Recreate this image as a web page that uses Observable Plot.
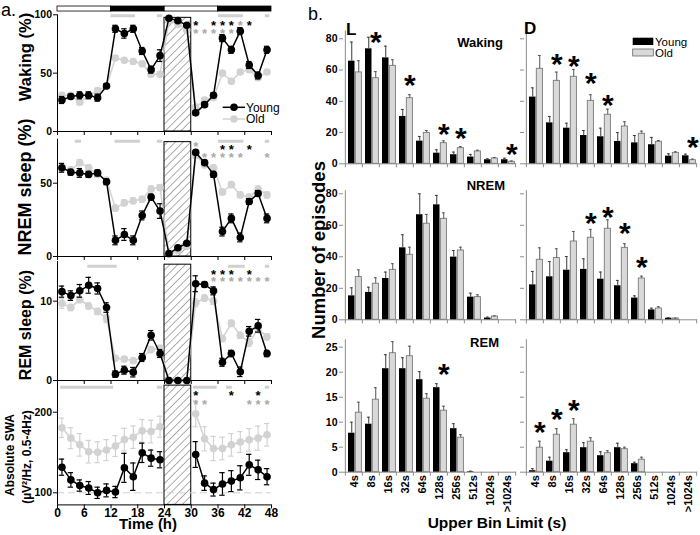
<!DOCTYPE html>
<html><head><meta charset="utf-8">
<script src="https://cdn.jsdelivr.net/npm/d3@7"></script>
<script src="https://cdn.jsdelivr.net/npm/@observablehq/plot@0.6"></script>
<style>
html,body{margin:0;padding:0;background:#fff;}
#chart{position:relative;width:700px;height:535px;overflow:hidden;background:#fff;}
#chart svg{position:absolute;background:transparent !important;max-width:none !important;overflow:visible;}
.pb g[aria-label="y-axis tick"], .pb g[aria-label="x-axis tick"], .pb g[aria-label="y-axis"] line {stroke:#8c8c8c;}
.swa g[aria-label^="x-axis"] text {font-size:12px;}
.pb g[aria-label^="x-axis"] text {font-size:11px;}
</style></head>
<body><div id="chart"></div>
<svg width="0" height="0" style="position:absolute"><defs>
<pattern id="hatch" patternUnits="userSpaceOnUse" width="5.5" height="5.5" patternTransform="rotate(45)">
<rect width="5.5" height="5.5" fill="#fff"/><line x1="0" y1="0" x2="0" y2="5.5" stroke="#333" stroke-width="0.8"/>
</pattern></defs></svg>
<script>
// ---------------- Panel a data ----------------
const hours = [1,3,5,7,9,11,13,15,17,19,21,23,25,27,29,31,33,35,37,39,41,43,45,47];
const hourTicks = [0,6,12,18,24,30,36,42,48];
const sdWindow = [[24,30]];
const lightDark = [{start:0,end:12,phase:"light"},{start:12,end:24,phase:"dark"},{start:24,end:36,phase:"light"},{start:36,end:48,phase:"dark"}];

const wakeYoung    = [27,30,31,31,29,39,88,84,88,69,53,65,97,95,91,16,23,31,80,70,86,57,48,70];
const wakeYoungErr = [3,2,3,3,3,2,3,4,3,3,3,5,1,1,1,2,2,2,3,3,3,3,3,3];
const wakeOld      = [31,31,25,31,35,39,63,61,60,58,49,49,95,92,87,21,27,29,50,43,51,53,46,51];
const wakeOldErr   = [2,2,2,2,2,2,2,2,2,2,2,2,1,1,1,2,2,2,2,2,2,2,2,2];

const nremYoung    = [60.5,57.5,57,56,57,51,11,15,11,28,40.5,31,2,6,9,71,64,56,17,26,13,37.5,43,26];
const nremYoungErr = [3,2,3,2,2,2,3,4,3,3,2,5,1,1,1,1,1,2,3,3,3,2,2,3];
const nremOld      = [60,59,64,60.5,56,52,33,36.6,38,39,46,47,2,4,7,69,62.5,60.5,44,49,42,40.5,46,42];
const nremOldErr   = [2,2,2,2,2,2,2,2,2,2,2,2,1,1,1,2,2,2,2,2,2,2,2,2];

const remYoung     = [11.2,10.7,11.3,12,11.6,9.2,0.8,1.3,1.05,2.9,5.7,3.4,0,0,0,12.2,12.1,11.3,2.3,3.4,1.1,6.2,6.9,3.4];
const remYoungErr  = [0.7,0.6,0.8,1,0.7,0.6,0.4,0.5,0.6,0.5,0.6,0.5,0,0,0,1,0.3,0.5,0.5,0.4,0.6,0.6,0.8,0.4];
const remOld       = [9.7,9.2,10.2,9.4,8.7,7.8,2.8,2.7,2.5,2.9,3.9,4.1,0,0,0,9.8,10.4,10,5.3,7.2,5.7,4.8,6.5,5.5];
const remOldErr    = [0.6,0.4,0.4,0.4,0.4,0.5,0.3,0.3,0.3,0.5,0.4,0.3,0,0,0,0.5,0.4,0.4,0.4,0.4,0.4,0.5,0.5,0.4];

const swaYoung     = [131.8,116,109,106,100,103,101,131,120,149.6,143,141,null,null,null,147.5,112,104,111,114.5,118.6,134.7,128.5,120];
const swaYoungErr  = [10,9,7,8,7,8,7,18,17,12,10,10,null,null,null,16,9,8,14,13,15,13,12,10];
const swaOld       = [180.6,167.8,159.5,151,150.4,153,158,166,169,177,176,182,null,null,null,198,167,155,155,159.5,163,165.7,167.8,172];
const swaOldErr    = [12,13,14,14,13,13,13,14,14,14,14,13,null,null,null,16,15,15,14,14,13,14,15,14];

// significance bars (hours) and asterisks (hours)
const wakeSigBars = [[12,17.5],[22.4,23.6],[36.1,41.7],[46.6,47.6]];
const nremSigBars = [[4,5.4],[12.9,18.6],[22.4,23.6],[36.1,41.8],[46.6,47.6]];
const remSigBars  = [[6.8,13.4],[38.4,42.1],[46.6,47.6]];
const swaSigBars  = [[0.7,12.6],[22.4,23.6],[30.5,35.8],[37.9,39.2],[46.6,47.6]];

const wakeStarBlack = [31,35,37,39,43], wakeStarGrayTop = [41], wakeStarGray = [31,33,35,37,39];
const nremStarGrayTop = [31], nremStarBlack = [37,39,43], nremStarGray = [33,35,37,39,41,47];
const remStarBlack = [35,37,39,43], remStarGray = [35,37,39,41,43,45,47];
const swaStarBlack = [31,39,45], swaStarGray = [31,33,43,45,47];

// ---------------- Panel b data ----------------
const bins = ["4s","8s","16s","32s","64s","128s","256s","512s","1024s",">1024s"];

const wakeLYoung = [65.7,73.6,67.8,30.3,14.5,6.8,5.8,4.3,2.6,2.6];
const wakeLYoungErr = [12.2,7.4,7.5,4.5,3,2.2,1.7,1.7,0.6,1.0];
const wakeLOld = [58.5,54.8,62.7,42,19.8,13.2,10,7.9,3.4,1.3];
const wakeLOldErr = [7.5,4.2,3.9,2.2,1.5,1.5,1,0.8,0.6,0.5];

const wakeDYoung = [42.7,26.2,22.8,18.1,17.3,14.3,13.4,12.2,4.9,5.1];
const wakeDYoungErr = [5.9,4.1,3.2,3.2,5.5,5.7,4.7,4.7,1.5,1.1];
const wakeDOld = [60.8,53.1,55.7,40.3,31.4,23.9,19.2,14.1,7,2.3];
const wakeDOldErr = [8.5,5.6,4.7,3.9,3.6,3,1.7,0.8,0.7,0.7];

const nremLYoung = [15.2,17.4,26.2,45.7,66.7,73,39.8,14.4,1.1,0];
const nremLYoungErr = [5.1,3.3,4.1,8.3,13.3,6,4.2,2.5,0.6,0];
const nremLOld = [27.1,22.9,31.7,41.3,61,64.1,44,14.4,2.1,0];
const nremLOldErr = [4.6,3.8,3.9,4.8,5.9,3.8,2.1,1.5,0.4,0];

const nremDYoung = [22.2,27.3,31.5,32,25.8,21.6,13.8,6.3,1,0];
const nremDYoungErr = [8.5,9.7,8.7,6.7,4.5,3.4,1.4,1.1,0.3,0];
const nremDOld = [38.1,39.2,49.7,52.1,57.8,45.7,26.2,7.2,0.8,0];
const nremDOldErr = [7.6,5.9,6.4,5.3,5.7,2.6,1.5,1.1,0.3,0];

const remLYoung = [7.8,9.6,20.7,20.7,18.5,16.9,8.7,0.1,0,0];
const remLYoungErr = [2.2,1.4,2.8,2.2,1.6,0.8,1,0.1,0,0];
const remLOld = [11.9,14.5,23.8,23.2,14.7,12.3,6.9,0,0,0];
const remLOldErr = [2.1,2.4,2.3,2,1,0.9,0.6,0,0,0];

const remDYoung = [0.3,2.2,3.9,4.9,3.3,4.9,1.7,0,0,0];
const remDYoungErr = [0.4,0.8,0.6,1,0.8,0.9,0.3,0,0,0];
const remDOld = [4.9,7.5,9.5,6.1,3.8,4.6,2.5,0,0,0];
const remDOldErr = [1.3,1.2,1.2,0.8,0.5,0.4,0.5,0,0,0];

// asterisk levels (episode counts)
const wakeLSig = [{bin:"8s",y:82},{bin:"32s",y:54.6},{bin:"128s",y:23.2},{bin:"256s",y:20.7},{bin:">1024s",y:10.6}];
const wakeDSig = [{bin:"8s",y:68.2},{bin:"16s",y:66.6},{bin:"32s",y:55.9},{bin:"64s",y:41.6},{bin:">1024s",y:14.9}];
const nremLSig = [];
const nremDSig = [{bin:"32s",y:65.6},{bin:"64s",y:69.4},{bin:"128s",y:59.2},{bin:"256s",y:37.7}];
const remLSig = [{bin:"128s",y:20.9}];
const remDSig = [{bin:"4s",y:9.3},{bin:"8s",y:12},{bin:"16s",y:13.8}];

// ---------------- drawing ----------------
const FONT = "'Liberation Sans', Arial, Helvetica, sans-serif";
const chart = document.getElementById("chart");
function put(svg, left, top, cls) {
  svg.style.left = left + "px"; svg.style.top = top + "px";
  cls.split(" ").forEach(c => svg.classList.add(c));
  chart.appendChild(svg);
}
const OLD = "#d2d2d2", STARGRAY = "#a8a8a8";

function panelA(c) {
  const rows = hours.map((t, i) => ({t, y: c.young[i], ye: c.youngErr[i], o: c.old[i], oe: c.oldErr[i]}));
  const lo = c.domain[0], hi = c.domain[1];
  const nn = v => v == null ? NaN : v;
  const cap = 0.6;
  const marks = [
    Plot.rect(sdWindow, {x1: d => d[0], x2: d => d[1], y1: lo, y2: c.hatchTop, fill: "url(#hatch)", stroke: "#000", strokeWidth: 1}),
    Plot.ruleY(c.sigBars, {y: c.sigBarY, x1: d => d[0], x2: d => d[1], stroke: "#d0d0d0", strokeWidth: 3}),
  ];
  if (c.dashed != null) marks.push(Plot.ruleY([c.dashed], {x1: 0, x2: 48, stroke: "#cfcfcf", strokeDasharray: "7,4", strokeWidth: 1}));
  if (c.ld) {
    marks.push(Plot.rect(lightDark.filter(d => d.phase === "light"), {x1: "start", x2: "end", y1: c.ld[0], y2: c.ld[1], fill: "#fff", stroke: "#000", strokeWidth: 0.8}));
    marks.push(Plot.rect(lightDark.filter(d => d.phase === "dark"), {x1: "start", x2: "end", y1: c.ld[0], y2: c.ld[1], fill: "#000", stroke: "#000", strokeWidth: 0.8}));
  }
  marks.push(
    Plot.line(rows, {x: "t", y: d => nn(d.o), stroke: OLD, strokeWidth: 1.5}),
    Plot.ruleX(rows, {x: "t", y1: d => nn(d.o) - d.oe, y2: d => nn(d.o) + d.oe, stroke: OLD, strokeWidth: 1.2}),
    Plot.ruleY(rows, {y: d => nn(d.o) + d.oe, x1: d => d.t - cap, x2: d => d.t + cap, stroke: OLD, strokeWidth: 1.2}),
    Plot.ruleY(rows, {y: d => nn(d.o) - d.oe, x1: d => d.t - cap, x2: d => d.t + cap, stroke: OLD, strokeWidth: 1.2}),
    Plot.dot(rows, {x: "t", y: d => nn(d.o), r: 3.8, fill: OLD, stroke: "none"})
  );
  marks.push(
    Plot.line(rows, {x: "t", y: d => nn(d.y), stroke: "#000", strokeWidth: 1.5}),
    Plot.ruleX(rows, {x: "t", y1: d => nn(d.y) - d.ye, y2: d => nn(d.y) + d.ye, stroke: "#000", strokeWidth: 1.2}),
    Plot.ruleY(rows, {y: d => nn(d.y) + d.ye, x1: d => d.t - cap, x2: d => d.t + cap, stroke: "#000", strokeWidth: 1.2}),
    Plot.ruleY(rows, {y: d => nn(d.y) - d.ye, x1: d => d.t - cap, x2: d => d.t + cap, stroke: "#000", strokeWidth: 1.2}),
    Plot.dot(rows, {x: "t", y: d => nn(d.y), r: 3.8, fill: "#000", stroke: "none"})
  );
  marks.push(
    Plot.ruleY([lo], {x1: 0, x2: 48, stroke: "#000", strokeWidth: 1}),
    Plot.ruleX([0], {y1: lo, y2: hi, stroke: "#000", strokeWidth: 1})
  );
  for (const s of c.stars) {
    marks.push(Plot.text(s.hours, {x: d => d, y: s.y, text: () => "*", fill: s.color, fontSize: 13, fontWeight: "bold", dy: 3.5}));
  }
  const svg = Plot.plot({
    width: 280, height: c.height,
    marginLeft: 57, marginRight: 9, marginTop: c.mt, marginBottom: c.mb,
    style: {fontFamily: FONT, fontSize: "10.5px", fontWeight: "bold", color: "#000", background: "transparent"},
    x: {domain: [0, 48], ticks: hourTicks, tickSize: 4, tickPadding: 0, label: null,
        tickFormat: c.showX ? (d => String(d)) : (() => "")},
    y: {domain: c.domain, ticks: c.yticks, tickSize: 4, tickPadding: 1.5, label: null},
    marks
  });
  put(svg, 0, c.top, "pa" + (c.showX ? " swa" : ""));
}

panelA({top: 0, height: 136, mt: 14.3, mb: 5, domain: [0, 100], yticks: [0, 50, 100],
  young: wakeYoung, youngErr: wakeYoungErr, old: wakeOld, oldErr: wakeOldErr,
  hatchTop: 97.4, sigBars: wakeSigBars, sigBarY: 99.2, ld: [102.8, 107.1],
  stars: [{hours: wakeStarBlack, y: 93.6, color: "#000"}, {hours: wakeStarGrayTop, y: 93.6, color: STARGRAY}, {hours: wakeStarGray, y: 86.8, color: STARGRAY}]});

panelA({top: 130, height: 131, mt: 8.7, mb: 5, domain: [0, 80], yticks: [0, 50],
  young: nremYoung, youngErr: nremYoungErr, old: nremOld, oldErr: nremOldErr,
  hatchTop: 78, sigBars: nremSigBars, sigBarY: 78.6,
  stars: [{hours: nremStarGrayTop, y: 77.3, color: STARGRAY}, {hours: nremStarBlack, y: 74.8, color: "#000"}, {hours: nremStarGray, y: 69.4, color: STARGRAY}]});

panelA({top: 255, height: 130, mt: 6, mb: 5, domain: [0, 15], yticks: [0, 10],
  young: remYoung, youngErr: remYoungErr, old: remOld, oldErr: remOldErr,
  hatchTop: 14.6, sigBars: remSigBars, sigBarY: 14.4,
  stars: [{hours: remStarBlack, y: 13.8, color: "#000"}, {hours: remStarGray, y: 12.85, color: STARGRAY}]});

panelA({top: 375, height: 160, mt: 8.5, mb: 30.6, domain: [85, 235], yticks: [100, 200], showX: true,
  young: swaYoung, youngErr: swaYoungErr, old: swaOld, oldErr: swaOldErr, dashed: 100,
  hatchTop: 233, sigBars: swaSigBars, sigBarY: 231,
  stars: [{hours: swaStarBlack, y: 225, color: "#000"}, {hours: swaStarGray, y: 213.4, color: STARGRAY}]});

// ---------------- panel b ----------------
function panelB(c) {
  const rows = bins.map((b, i) => ({b, y: c.young[i], ye: c.youngErr[i], o: c.old[i], oe: c.oldErr[i]}));
  const bw = 17.3, ppu = c.ppu, top = c.domain[1];
  const yE = rows.filter(d => d.ye > 0), oE = rows.filter(d => d.oe > 0);
  const marks = [
    Plot.ruleY([0], {stroke: "#8c8c8c", strokeWidth: 1}),
    Plot.ruleX(bins, {x: d => d, dx: -bw / 2, y1: 0, y2: -4 / ppu, stroke: "#8c8c8c"}),
    Plot.ruleX([bins[bins.length - 1]], {x: d => d, dx: bw / 2, y1: 0, y2: -4 / ppu, stroke: "#8c8c8c"}),
    Plot.ruleX([bins[0]], {x: d => d, dx: -bw / 2, y1: 0, y2: top, stroke: "#8c8c8c"}),
    Plot.barY(rows.filter(d => d.y > 0), {x: "b", y: "y", fill: "#000", insetLeft: 3, insetRight: 7.5}),
    Plot.barY(rows.filter(d => d.o > 0), {x: "b", y: "o", fill: "#d9d9d9", stroke: "#7a7a7a", strokeWidth: 0.9, insetLeft: 10.3, insetRight: 0.6}),
    Plot.ruleX(yE, {x: "b", y1: "y", y2: d => d.y + d.ye, dx: -2.25, stroke: "#3a3a3a", strokeWidth: 1}),
    Plot.tickY(yE, {x: "b", y: d => d.y + d.ye, insetLeft: 4.9, insetRight: 9.4, stroke: "#3a3a3a", strokeWidth: 1}),
    Plot.ruleX(oE, {x: "b", y1: "o", y2: d => d.o + d.oe, dx: 4.75, stroke: "#555", strokeWidth: 1}),
    Plot.tickY(oE, {x: "b", y: d => d.o + d.oe, insetLeft: 11.9, insetRight: 2.4, stroke: "#555", strokeWidth: 1}),
    Plot.text(c.sig, {x: "bin", y: "y", text: () => "*", dx: 4.75, dy: 7, fontSize: 30, fontWeight: "bold", fill: "#000"})
  ];
  const svg = Plot.plot({
    width: c.width, height: c.height,
    marginLeft: c.ml, marginRight: c.width - c.ml - 173, marginTop: c.mt, marginBottom: c.height - c.y0,
    style: {fontFamily: FONT, fontSize: "10.5px", fontWeight: "bold", color: "#000", background: "transparent"},
    x: {domain: bins, padding: 0, label: null, axis: c.showX ? "bottom" : null, tickRotate: -90, tickSize: 0, tickPadding: 3},
    y: {domain: c.domain, ticks: c.yticks, tickSize: 4, tickPadding: 2, label: null,
        tickFormat: c.labels ? (d => String(d)) : (() => "")},
    marks
  });
  put(svg, c.left, c.top, "pb");
}
const Lcol = {left: 300, width: 220, ml: 43, labels: true};
const Dcol = {left: 500, width: 200, ml: 24, labels: false};
const wRow = {top: 20, height: 150, y0: 143.3, mt: 10.5, domain: [0, 85], yticks: [0, 20, 40, 60, 80], ppu: 1.5625};
const nRow = {top: 180, height: 145, y0: 139.3, mt: 10.15, domain: [0, 82], yticks: [0, 20, 40, 60, 80], ppu: 1.575};
const rRow = {top: 330, height: 205, y0: 141.7, mt: 9.2, domain: [0, 26.5], yticks: [0, 5, 10, 15, 20, 25], ppu: 5, showX: true};

panelB({...Lcol, ...wRow, young: wakeLYoung, youngErr: wakeLYoungErr, old: wakeLOld, oldErr: wakeLOldErr, sig: wakeLSig});
panelB({...Dcol, ...wRow, young: wakeDYoung, youngErr: wakeDYoungErr, old: wakeDOld, oldErr: wakeDOldErr, sig: wakeDSig});
panelB({...Lcol, ...nRow, young: nremLYoung, youngErr: nremLYoungErr, old: nremLOld, oldErr: nremLOldErr, sig: nremLSig});
panelB({...Dcol, ...nRow, young: nremDYoung, youngErr: nremDYoungErr, old: nremDOld, oldErr: nremDOldErr, sig: nremDSig});
panelB({...Lcol, ...rRow, young: remLYoung, youngErr: remLYoungErr, old: remLOld, oldErr: remLOldErr, sig: remLSig});
panelB({...Dcol, ...rRow, young: remDYoung, youngErr: remDYoungErr, old: remDOld, oldErr: remDOldErr, sig: remDSig});

// ---------------- text overlay ----------------
const ov = d3.select("#chart").append("svg").attr("width", 700).attr("height", 535)
  .style("left", "0px").style("top", "0px").style("pointer-events", "none").style("font-family", FONT);
function t(x, y, s, size, opts = {}) {
  return ov.append("text").attr("x", x).attr("y", y).text(s).attr("font-size", size)
    .attr("font-weight", opts.bold ? "bold" : "normal").attr("text-anchor", opts.anchor || "start").attr("fill", "#000");
}
function rt(cx, cy, s, size) {
  ov.append("text").attr("transform", `translate(${cx},${cy}) rotate(-90)`).attr("text-anchor", "middle")
    .attr("dominant-baseline", "central").attr("font-size", size).attr("font-weight", "bold").text(s);
}
t(1, 16, "a.", 18);
t(308, 20, "b.", 18);
rt(25, 57, "Waking (%)", 16.5);
rt(25, 187, "NREM sleep (%)", 18);
rt(25, 325, "REM sleep (%)", 16);
rt(10, 455, "Absolute SWA", 12);
rt(27, 457, "(µV²/Hz, 0.5-4Hz)", 12);
t(148, 529, "Time (h)", 15, {bold: true, anchor: "middle"});
// legend a
ov.append("line").attr("x1", 222.7).attr("x2", 245).attr("y1", 107.3).attr("y2", 107.3).attr("stroke", "#000").attr("stroke-width", 1.5);
ov.append("circle").attr("cx", 234).attr("cy", 107.3).attr("r", 3.8).attr("fill", "#000");
ov.append("line").attr("x1", 222.7).attr("x2", 245).attr("y1", 119).attr("y2", 119).attr("stroke", OLD).attr("stroke-width", 1.5);
ov.append("circle").attr("cx", 234).attr("cy", 119).attr("r", 3.8).attr("fill", OLD);
t(246, 111.5, "Young", 12);
t(246, 123.2, "Old", 12);
// panel b labels
rt(318, 250, "Number of episodes", 18.5);
t(497, 528, "Upper Bin Limit (s)", 15.5, {bold: true, anchor: "middle"});
t(346, 35, "L", 17, {bold: true});
t(524, 33.5, "D", 17, {bold: true});
t(503, 46.5, "Waking", 13, {bold: true, anchor: "end"});
t(505, 190, "NREM", 13, {bold: true, anchor: "end"});
t(499, 346.5, "REM", 13, {bold: true, anchor: "end"});
// legend b
ov.append("rect").attr("x", 632.7).attr("y", 37.7).attr("width", 20.6).attr("height", 7.3).attr("fill", "#000");
ov.append("rect").attr("x", 632.7).attr("y", 49).attr("width", 20.6).attr("height", 7).attr("fill", "#d9d9d9").attr("stroke", "#666").attr("stroke-width", 0.8);
t(655, 45.5, "Young", 11.5);
t(655, 57, "Old", 11.5);
</script></body></html>
